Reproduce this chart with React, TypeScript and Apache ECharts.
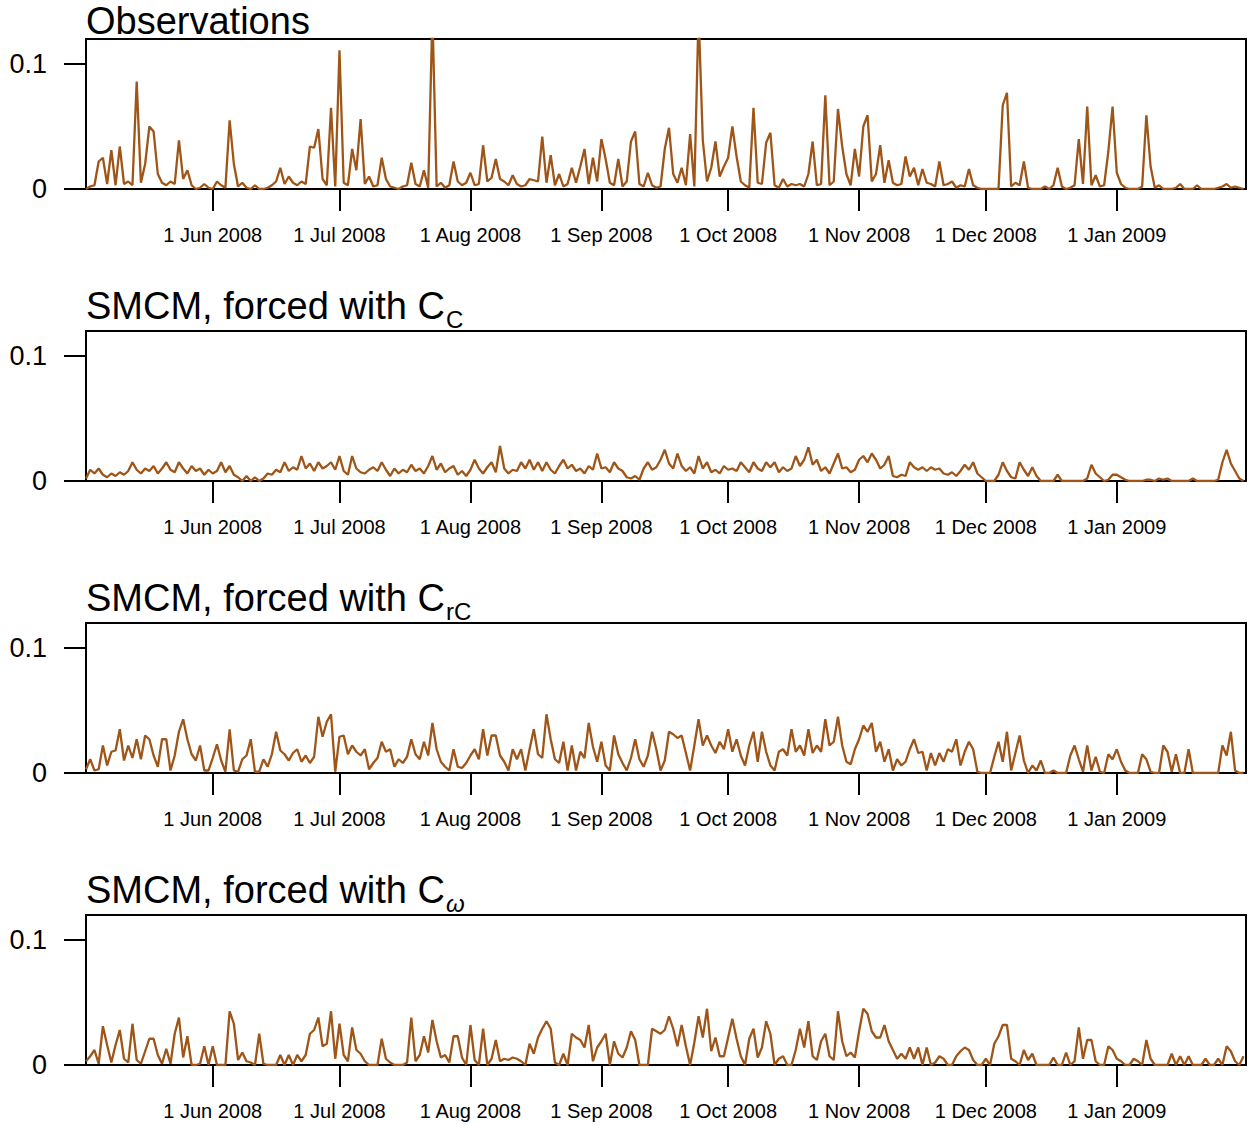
import React, { useEffect, useRef } from "react";
import * as echarts from "echarts";

// ---- axis ranges / ticks ----
const startDate = "2008-05-02T00:00";
const endDate = "2009-01-31T14:00";
const tickDates = [
  "2008-06-01T00:00", "2008-07-01T00:00", "2008-08-01T00:00", "2008-09-01T00:00",
  "2008-10-01T00:00", "2008-11-01T00:00", "2008-12-01T00:00", "2009-01-01T00:00",
];
const tickLabels = [
  "1 Jun 2008", "1 Jul 2008", "1 Aug 2008", "1 Sep 2008",
  "1 Oct 2008", "1 Nov 2008", "1 Dec 2008", "1 Jan 2009",
];
const yTicks = [0, 0.1];
const yTickLabels = ["0", "0.1"];
const yMax = 0.12;

const panelTitles = ["Observations", "SMCM, forced with C", "SMCM, forced with C", "SMCM, forced with C"];
const panelSubscripts = ["", "C", "rC", "ω"];

// ---- daily values (in thousandths), starting 2 May 2008 ----
const observations = [
  0, 2, 3, 22, 25, 4, 31, 3, 34, 4,
  6, 3, 86, 5, 20, 50, 46, 12, 5, 3,
  6, 4, 39, 8, 15, 3, 0, 1, 4, 1,
  0, 6, 3, 1, 55, 20, 2, 5, 1, 0,
  3, 0, 0, 1, 3, 6, 17, 4, 10, 5,
  3, 6, 4, 34, 33, 48, 8, 3, 65, 2,
  111, 5, 3, 32, 15, 56, 4, 10, 2, 3,
  25, 8, 2, 1, 0, 2, 3, 21, 4, 2,
  15, 1, 140, 2, 5, 1, 3, 22, 6, 3,
  5, 13, 3, 4, 35, 6, 9, 24, 8, 6,
  3, 11, 4, 2, 3, 8, 7, 6, 42, 5,
  27, 3, 12, 2, 4, 17, 5, 18, 32, 4,
  25, 6, 40, 24, 5, 3, 24, 2, 6, 38,
  46, 4, 2, 13, 3, 1, 2, 32, 49, 12,
  5, 17, 3, 44, 2, 140, 39, 6, 17, 38,
  10, 18, 25, 50, 26, 6, 3, 1, 65, 5,
  4, 37, 45, 3, 1, 8, 2, 4, 3, 4,
  2, 12, 38, 3, 4, 75, 3, 6, 64, 34,
  12, 3, 32, 10, 50, 59, 6, 12, 35, 5,
  23, 5, 3, 4, 26, 10, 17, 3, 16, 5,
  4, 2, 22, 3, 4, 6, 1, 3, 2, 16,
  3, 1, 0, 0, 0, 0, 0, 67, 77, 2,
  5, 3, 22, 1, 0, 0, 0, 2, 0, 3,
  17, 2, 0, 1, 3, 40, 4, 66, 3, 11,
  2, 3, 30, 66, 13, 4, 1, 0, 0, 0,
  2, 59, 18, 1, 3, 0, 0, 0, 1, 4,
  0, 0, 0, 3, 0, 0, 0, 0, 1, 2,
  4, 1, 2, 1, 0,
];

const smcmCc = [
  2, 9, 6, 10, 5, 3, 6, 4, 7, 5,
  8, 15, 9, 6, 10, 8, 12, 6, 10, 15,
  9, 7, 15, 10, 6, 12, 8, 10, 5, 9,
  6, 8, 15, 7, 12, 5, 3, 0, 4, 0,
  3, 0, 2, 6, 5, 9, 7, 15, 8, 11,
  9, 20, 10, 14, 8, 15, 10, 12, 15, 9,
  20, 8, 5, 20, 10, 7, 6, 9, 11, 8,
  15, 9, 4, 10, 6, 9, 7, 13, 8, 10,
  6, 12, 20, 9, 14, 7, 10, 12, 5, 8,
  4, 9, 17, 10, 6, 11, 15, 7, 28, 10,
  6, 9, 8, 15, 10, 17, 9, 15, 8, 15,
  9, 6, 12, 17, 10, 13, 8, 10, 6, 12,
  9, 22, 10, 11, 7, 15, 10, 8, 3, 2,
  4, 1, 10, 15, 9, 11, 17, 25, 14, 10,
  22, 12, 8, 11, 6, 20, 10, 15, 7, 9,
  6, 12, 9, 10, 8, 15, 11, 7, 15, 10,
  8, 15, 11, 15, 7, 11, 8, 10, 20, 12,
  17, 27, 13, 17, 8, 11, 6, 14, 22, 10,
  11, 7, 9, 17, 20, 15, 22, 17, 10, 13,
  20, 4, 3, 5, 4, 15, 11, 9, 11, 8,
  11, 9, 10, 6, 5, 7, 4, 8, 13, 9,
  15, 6, 3, 0, 0, 0, 5, 15, 8, 3,
  2, 15, 9, 4, 11, 4, 0, 0, 0, 0,
  5, 0, 0, 0, 0, 0, 0, 2, 13, 6,
  3, 0, 1, 5, 5, 3, 1, 0, 0, 0,
  0, 1, 1, 0, 2, 1, 2, 0, 0, 0,
  0, 0, 2, 0, 0, 0, 0, 0, 1, 15,
  25, 14, 8, 2, 0,
];

const smcmCrc = [
  3, 11, 2, 3, 22, 6, 17, 18, 35, 10,
  22, 12, 27, 11, 30, 27, 14, 5, 27, 27,
  2, 14, 33, 43, 27, 15, 10, 22, 2, 2,
  12, 23, 10, 1, 35, 2, 1, 11, 14, 27,
  1, 1, 11, 5, 15, 33, 18, 15, 10, 16,
  19, 9, 14, 8, 13, 45, 29, 41, 47, 1,
  29, 30, 15, 22, 17, 14, 19, 3, 8, 12,
  25, 17, 19, 5, 11, 8, 13, 27, 15, 11,
  25, 14, 40, 19, 9, 5, 2, 19, 5, 4,
  8, 14, 19, 11, 35, 14, 30, 30, 14, 9,
  2, 19, 11, 19, 2, 19, 35, 15, 12, 47,
  27, 11, 8, 25, 2, 22, 2, 17, 12, 40,
  21, 9, 25, 6, 2, 30, 15, 8, 2, 12,
  27, 11, 5, 14, 33, 19, 2, 10, 33, 31,
  28, 30, 16, 2, 22, 43, 22, 30, 22, 16,
  25, 19, 35, 17, 27, 14, 6, 22, 33, 9,
  33, 17, 6, 2, 17, 19, 14, 35, 17, 22,
  14, 35, 16, 22, 17, 43, 22, 25, 45, 22,
  9, 7, 19, 27, 38, 33, 40, 17, 25, 9,
  19, 2, 11, 6, 9, 19, 27, 16, 17, 2,
  16, 6, 16, 9, 19, 17, 27, 6, 17, 25,
  19, 1, 0, 0, 0, 13, 25, 9, 33, 2,
  16, 30, 10, 0, 6, 2, 10, 0, 0, 2,
  0, 0, 0, 14, 22, 11, 1, 22, 2, 13,
  1, 0, 15, 11, 19, 9, 2, 0, 0, 0,
  15, 11, 1, 0, 0, 22, 17, 1, 15, 0,
  0, 19, 0, 0, 0, 0, 0, 0, 0, 22,
  14, 33, 2, 0, 0,
];

const smcmComega = [
  3, 7, 12, 1, 31, 16, 2, 16, 28, 5,
  2, 33, 4, 1, 11, 21, 21, 8, 1, 13,
  1, 25, 38, 6, 23, 0, 0, 1, 15, 0,
  15, 0, 0, 0, 43, 33, 4, 10, 3, 2,
  0, 25, 1, 0, 0, 0, 8, 0, 8, 0,
  8, 3, 8, 25, 28, 38, 15, 17, 43, 5,
  33, 8, 3, 30, 12, 9, 3, 0, 0, 0,
  21, 5, 2, 0, 0, 0, 2, 38, 3, 8,
  23, 10, 36, 19, 6, 8, 2, 23, 23, 6,
  0, 32, 4, 0, 29, 0, 5, 20, 3, 5,
  4, 6, 5, 3, 0, 17, 9, 22, 29, 35,
  29, 2, 0, 9, 0, 25, 22, 20, 14, 32,
  3, 14, 19, 25, 0, 19, 9, 6, 14, 27,
  20, 0, 0, 0, 29, 27, 25, 28, 39, 29,
  15, 32, 15, 0, 18, 39, 22, 45, 11, 22,
  7, 7, 22, 37, 21, 7, 0, 21, 29, 6,
  14, 35, 25, 0, 5, 7, 0, 0, 12, 29,
  14, 35, 7, 4, 19, 25, 7, 4, 43, 19,
  7, 10, 6, 27, 45, 41, 27, 22, 22, 32,
  19, 12, 5, 9, 5, 14, 5, 14, 0, 14,
  0, 2, 7, 5, 0, 0, 7, 11, 14, 12,
  4, 0, 0, 5, 0, 17, 23, 32, 32, 5,
  3, 0, 12, 4, 9, 0, 0, 0, 0, 6,
  0, 0, 10, 0, 3, 30, 5, 20, 20, 3,
  0, 0, 15, 12, 5, 3, 0, 0, 5, 3,
  0, 20, 5, 0, 0, 0, 0, 9, 0, 7,
  0, 7, 0, 0, 0, 5, 0, 0, 5, 0,
  15, 11, 3, 0, 7,
];

const panelData = [observations, smcmCc, smcmCrc, smcmComega];

const LINE_COLOR = "#9E5517";
const FONT = '"Liberation Sans", Arial, Helvetica, sans-serif';
const DAY_MS = 86400000;

function measureWidth(text: string, size: number, style = "normal"): number {
  const ctx = document.createElement("canvas").getContext("2d");
  if (!ctx) return text.length * size * 0.55;
  ctx.font = `${style} ${size}px "Liberation Sans", Arial, sans-serif`;
  return ctx.measureText(text).width;
}

export default function App() {
  const ref = useRef<HTMLDivElement>(null);

  useEffect(() => {
    if (!ref.current) return;
    const chart = echarts.init(ref.current, undefined, { renderer: "svg" });

    const start = new Date(startDate).getTime();
    const end = new Date(endDate).getTime();
    const tickValues = tickDates.map((d) => new Date(d).getTime());

    const gridLeft = 86;
    const gridWidth = 1160;
    const gridHeight = 150;
    const gridTops = [39, 331, 623, 915];
    const titleCenters = [21, 306, 598, 890];

    const grids = gridTops.map((top) => ({
      left: gridLeft,
      top,
      width: gridWidth,
      height: gridHeight,
      show: true,
      borderColor: "#000",
      borderWidth: 2,
      backgroundColor: "transparent",
    }));

    const xAxes = gridTops.map((_, i) => ({
      type: "value",
      gridIndex: i,
      min: start,
      max: end,
      axisLine: { show: false },
      splitLine: { show: false },
      axisTick: {
        show: true,
        customValues: tickValues,
        length: 22,
        lineStyle: { color: "#000", width: 2 },
      },
      axisLabel: {
        customValues: tickValues,
        formatter: (v: number) => {
          const idx = tickValues.findIndex((t) => Math.abs(t - v) < DAY_MS / 2);
          return idx >= 0 ? tickLabels[idx] : "";
        },
        fontSize: 20,
        fontFamily: FONT,
        color: "#000",
        margin: 36,
      },
    }));

    const yAxes = gridTops.map((_, i) => ({
      type: "value",
      gridIndex: i,
      min: 0,
      max: yMax,
      axisLine: { show: false },
      splitLine: { show: false },
      axisTick: {
        show: true,
        customValues: yTicks,
        length: 22,
        lineStyle: { color: "#000", width: 2 },
      },
      axisLabel: {
        customValues: yTicks,
        formatter: (v: number) => {
          const idx = yTicks.findIndex((t) => Math.abs(t - v) < 1e-9);
          return idx >= 0 ? yTickLabels[idx] : "";
        },
        fontSize: 27,
        fontFamily: FONT,
        color: "#000",
        margin: 39,
      },
    }));

    const series = panelData.map((vals, i) => ({
      type: "line",
      xAxisIndex: i,
      yAxisIndex: i,
      data: vals.map((v, k) => [start + k * DAY_MS, v / 1000]),
      showSymbol: false,
      symbol: "none",
      clip: true,
      lineStyle: { color: LINE_COLOR, width: 2.3 },
      itemStyle: { color: LINE_COLOR },
      z: 1,
    }));

    const graphics: any[] = [];
    panelTitles.forEach((title, i) => {
      graphics.push({
        type: "text",
        x: gridLeft,
        y: titleCenters[i],
        style: {
          text: title,
          fontSize: 38,
          fontFamily: FONT,
          fill: "#000",
          textAlign: "left",
          textVerticalAlign: "middle",
          align: "left",
          verticalAlign: "middle",
        },
      });
      const sub = panelSubscripts[i];
      if (sub) {
        const w = measureWidth(title, 38);
        const isGreek = sub === "ω";
        graphics.push({
          type: "text",
          x: gridLeft + w + 1,
          y: titleCenters[i] + 13,
          style: {
            text: sub,
            fontSize: 24,
            fontFamily: FONT,
            fontStyle: isGreek ? "italic" : "normal",
            fill: "#000",
            textAlign: "left",
            textVerticalAlign: "middle",
            align: "left",
            verticalAlign: "middle",
          },
        });
      }
    });

    chart.setOption({
      animation: false,
      backgroundColor: "#fff",
      grid: grids,
      xAxis: xAxes,
      yAxis: yAxes,
      series,
      graphic: graphics,
    });

    return () => chart.dispose();
  }, []);

  return (
    <div
      ref={ref}
      style={{ position: "absolute", left: 0, top: 0, width: 1250, height: 1125 }}
    />
  );
}
